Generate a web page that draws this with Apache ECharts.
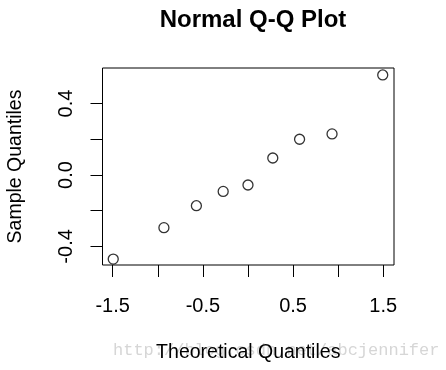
<!DOCTYPE html>
<html>
<head>
<meta charset="utf-8">
<script src="https://cdn.jsdelivr.net/npm/echarts@6/dist/echarts.min.js"></script>
<style>
html,body{margin:0;padding:0;background:#fff;}
#chart{width:446px;height:370px;}
</style>
</head>
<body>
<div id="chart"></div>
<script>
var theoretical = [-1.494, -0.932, -0.572, -0.275, 0, 0.275, 0.572, 0.932, 1.494];
var sample = [-0.471, -0.295, -0.172, -0.092, -0.056, 0.095, 0.200, 0.230, 0.560];
var xTicks = [-1.5, -1.0, -0.5, 0, 0.5, 1.0, 1.5];
var xLabels = [-1.5, -0.5, 0.5, 1.5];
var yTicks = [-0.4, -0.2, 0, 0.2, 0.4, 0.6];
var yLabels = [-0.4, 0, 0.4];

var FONT = "'Liberation Sans', Arial, Helvetica, sans-serif";
var chart = echarts.init(document.getElementById('chart'), null, {renderer: 'canvas'});
var pts = theoretical.map(function (t, i) { return [t, sample[i]]; });

chart.setOption({
  animation: false,
  backgroundColor: '#fff',
  title: {
    text: 'Normal Q-Q Plot',
    left: 248,
    textAlign: 'center',
    top: 3,
    textStyle: {fontFamily: FONT, fontSize: 24, fontWeight: 'bold', color: '#000'}
  },
  grid: {
    left: 102.5, right: 52, top: 68, bottom: 105,
    outerBoundsMode: 'none',
    containLabel: false,
    show: true, borderColor: '#000', borderWidth: 1, backgroundColor: 'transparent'
  },
  xAxis: {
    type: 'value',
    min: -1.613, max: 1.619,
    name: 'Theoretical Quantiles',
    nameLocation: 'middle',
    nameGap: 78,
    nameTextStyle: {fontFamily: FONT, fontSize: 19.5, color: '#000'},
    axisLine: {show: false, onZero: false},
    splitLine: {show: false},
    axisTick: {show: true, inside: false, length: 12, customValues: xTicks, lineStyle: {color: '#000', width: 1}},
    axisLabel: {
      customValues: xLabels, margin: 31, fontFamily: FONT, fontSize: 20, color: '#000',
      formatter: function (v) { return v.toFixed(1); }
    }
  },
  yAxis: {
    type: 'value',
    min: -0.504, max: 0.599,
    name: 'Sample Quantiles',
    nameLocation: 'middle',
    nameGap: 77,
    nameTextStyle: {fontFamily: FONT, fontSize: 19.5, color: '#000'},
    axisLine: {show: false, onZero: false},
    splitLine: {show: false},
    axisTick: {show: true, inside: false, length: 12, customValues: yTicks, lineStyle: {color: '#000', width: 1}},
    axisLabel: {
      customValues: yLabels, rotate: 90, margin: 26, fontFamily: FONT, fontSize: 20, color: '#000',
      formatter: function (v) { return v.toFixed(1); }
    }
  },
  graphic: [{
    type: 'text',
    left: 113, top: 342,
    silent: true,
    z: -1,
    style: {text: 'http://blog.csdn.net/abcjennifer', fill: '#d6d6d6', font: '17px "Liberation Mono", "DejaVu Sans Mono", monospace'}
  }],
  series: [{
    type: 'scatter',
    data: pts,
    symbol: 'circle',
    symbolSize: 10,
    itemStyle: {color: 'rgba(255,255,255,0)', borderColor: '#000', borderWidth: 1.3},
    z: 5
  }]
});
</script>
</body>
</html>
